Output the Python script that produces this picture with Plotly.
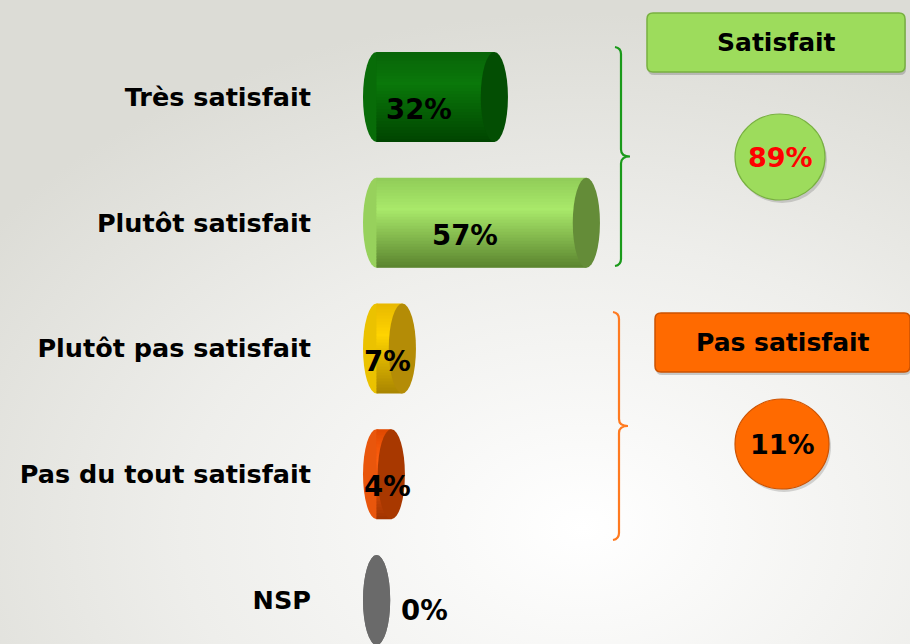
import base64
import plotly.graph_objects as go

# ---------------- data ----------------
categories = ["Très satisfait", "Plutôt satisfait", "Plutôt pas satisfait",
              "Pas du tout satisfait", "NSP"]
values = [32, 57, 7, 4, 0]
group_names = ["Satisfait", "Pas satisfait"]
group_members = [[0, 1], [2, 3]]

# ---------------- style ----------------
# vertical shading profile of each cylinder: (top, highlight, bottom)
top_colors = ["#086408", "#90cc58", "#e8b800", "#e04800", "#707070"]
hi_colors = ["#0a780a", "#a9e96a", "#ffd400", "#ff6010", "#747474"]
bot_colors = ["#004400", "#5a832e", "#a88400", "#a03400", "#646464"]
cap_colors = ["#034e03", "#648c38", "#b48c06", "#a83800", "#6a6a6a"]
group_fill = ["#9ddc5c", "#ff6a00"]
group_line = ["#78b040", "#cc5200"]
group_text = ["#ff0000", "#000000"]
brace_colors = ["#1a9a1a", "#ff7a20"]

W_FIG, H_FIG = 910, 644
L = 312                      # left margin (px)
PX_PER_UNIT = 3.68           # px per percent
X0_PX = 376.6                # px of value 0
ROW0_PX, ROW_STEP = 97, 125.75

x_min = (L - X0_PX) / PX_PER_UNIT
x_max = (W_FIG - X0_PX) / PX_PER_UNIT
y_top = -ROW0_PX / ROW_STEP
y_bot = (H_FIG - ROW0_PX) / ROW_STEP
PW = W_FIG - L


def px(x):
    return (x - L) / PW


def py(y):
    return 1 - y / H_FIG


def hex2rgb(h):
    h = h.lstrip("#")
    return [int(h[i:i + 2], 16) for i in (0, 2, 4)]


def mix(c1, c2, t):
    a, b = hex2rgb(c1), hex2rgb(c2)
    return "rgb({},{},{})".format(*[round(a[k] + (b[k] - a[k]) * t) for k in range(3)])


def shade(i, t):
    if t <= 0.35:
        return mix(top_colors[i], hi_colors[i], t / 0.35)
    return mix(hi_colors[i], bot_colors[i], (t - 0.35) / 0.65)


FONT = "DejaVu Sans"
bar_w = 0.716
cap_rx = 13.6 / PX_PER_UNIT
cap_ry = bar_w / 2
N_STRIPES = 30

fig = go.Figure()
ys = list(range(len(categories)))

sw = bar_w / N_STRIPES
for k in range(N_STRIPES):
    t = (k + 0.5) / N_STRIPES
    w = sw * (1.8 if k < N_STRIPES - 1 else 1.0)
    fig.add_trace(go.Bar(
        y=ys, x=values, orientation="h", width=w, offset=-bar_w / 2 + k * sw,
        marker=dict(color=[shade(i, t) for i in ys], line=dict(width=0)),
        hoverinfo="skip", showlegend=False))

shapes = []
annotations = []
for i, v in enumerate(values):
    # left cap (behind bar body)
    shapes.append(dict(type="circle", xref="x", yref="y", layer="below",
                       x0=-cap_rx, x1=cap_rx, y0=i - cap_ry, y1=i + cap_ry,
                       fillcolor=shade(i, 0.5), line=dict(width=0)))
    # right cap (end face)
    shapes.append(dict(type="circle", xref="x", yref="y", layer="above",
                       x0=v - cap_rx, x1=v + cap_rx, y0=i - cap_ry, y1=i + cap_ry,
                       fillcolor=cap_colors[i], line=dict(width=0)))
    if v >= 1:
        annotations.append(dict(x=max(v / 2 - 4.5, 3), y=i, xref="x", yref="y",
                                xanchor="center", yanchor="middle",
                                text=f"{v}%", showarrow=False, yshift=-12,
                                font=dict(family=FONT, size=27.5, color="black", weight="bold")))
    else:
        annotations.append(dict(x=v + 6, y=i, xref="x", yref="y", xanchor="left",
                                yanchor="middle",
                                text=f"{v}%", showarrow=False, yshift=-10,
                                font=dict(family=FONT, size=27.5, color="black", weight="bold")))


def rrect(x0, y0, x1, y1, r):
    pts = [("M", x0 + r, y0), ("L", x1 - r, y0), ("Q", x1, y0, x1, y0 + r),
           ("L", x1, y1 - r), ("Q", x1, y1, x1 - r, y1), ("L", x0 + r, y1),
           ("Q", x0, y1, x0, y1 - r), ("L", x0, y0 + r), ("Q", x0, y0, x0 + r, y0)]
    s = ""
    for p in pts:
        if p[0] == "Q":
            s += f"Q{px(p[1]):.5f},{py(p[2]):.5f} {px(p[3]):.5f},{py(p[4]):.5f} "
        else:
            s += f"{p[0]}{px(p[1]):.5f},{py(p[2]):.5f} "
    return s + "Z"


def brace(x, ytop, ybot, depth=9, hook=6, r=7):
    ym = (ytop + ybot) / 2
    d = (f"M{px(x - hook):.5f},{py(ytop):.5f} "
         f"Q{px(x):.5f},{py(ytop + 1):.5f} {px(x):.5f},{py(ytop + r):.5f} "
         f"L{px(x):.5f},{py(ym - r):.5f} "
         f"Q{px(x):.5f},{py(ym):.5f} {px(x + depth):.5f},{py(ym):.5f} "
         f"Q{px(x):.5f},{py(ym):.5f} {px(x):.5f},{py(ym + r):.5f} "
         f"L{px(x):.5f},{py(ybot - r):.5f} "
         f"Q{px(x):.5f},{py(ybot - 1):.5f} {px(x - hook):.5f},{py(ybot):.5f}")
    return d


brace_pos = [(621, 47, 266), (619, 312, 540)]
box_pos = [(647, 13, 905, 72), (655, 313, 910, 372)]
circ_pos = [(780, 157, 45, 43), (782, 444, 47, 45)]

for g, members in enumerate(group_members):
    total = sum(values[m] for m in members)
    bx, bt, bb = brace_pos[g]
    shapes.append(dict(type="path", xref="paper", yref="paper", path=brace(bx, bt, bb),
                       line=dict(color=brace_colors[g], width=2.2)))
    x0, y0, x1, y1 = box_pos[g]
    shapes.append(dict(type="path", xref="paper", yref="paper",
                       path=rrect(x0 + 1, y0 + 3, x1 + 1, y1 + 3, 6),
                       fillcolor="rgba(0,0,0,0.18)", line=dict(width=0)))
    shapes.append(dict(type="path", xref="paper", yref="paper", path=rrect(x0, y0, x1, y1, 6),
                       fillcolor=group_fill[g], line=dict(color=group_line[g], width=1.5)))
    annotations.append(dict(x=px((x0 + x1) / 2), y=py((y0 + y1) / 2), xref="paper", yref="paper",
                            xanchor="center", yanchor="middle",
                            text=group_names[g], showarrow=False,
                            font=dict(family=FONT, size=25, color="black", weight="bold")))
    cx, cy, rx, ry = circ_pos[g]
    shapes.append(dict(type="circle", xref="paper", yref="paper",
                       x0=px(cx - rx + 2), x1=px(cx + rx + 2), y0=py(cy + ry + 3), y1=py(cy - ry + 3),
                       fillcolor="rgba(0,0,0,0.15)", line=dict(width=0)))
    shapes.append(dict(type="circle", xref="paper", yref="paper",
                       x0=px(cx - rx), x1=px(cx + rx), y0=py(cy + ry), y1=py(cy - ry),
                       fillcolor=group_fill[g], line=dict(color=group_line[g], width=1.2)))
    annotations.append(dict(x=px(cx), y=py(cy), xref="paper", yref="paper",
                            xanchor="center", yanchor="middle",
                            text=f"{total}%", showarrow=False,
                            font=dict(family=FONT, size=27, color=group_text[g], weight="bold")))

svg = ('<svg xmlns="http://www.w3.org/2000/svg" width="910" height="644">'
       '<defs><radialGradient id="g" cx="0.64" cy="0.82" r="0.8">'
       '<stop offset="0" stop-color="#ffffff"/><stop offset="0.55" stop-color="#eeeeeb"/>'
       '<stop offset="1" stop-color="#dcdcd6"/></radialGradient></defs>'
       '<rect width="910" height="644" fill="url(#g)"/></svg>')
bg_src = "data:image/svg+xml;base64," + base64.b64encode(svg.encode()).decode()

fig.update_layout(
    width=W_FIG, height=H_FIG,
    margin=dict(l=L, r=0, t=0, b=0),
    barmode="overlay",
    paper_bgcolor="#e8e8e4", plot_bgcolor="rgba(0,0,0,0)",
    xaxis=dict(range=[x_min, x_max], visible=False, fixedrange=True),
    yaxis=dict(range=[y_bot, y_top], tickvals=ys, ticktext=categories,
               showgrid=False, zeroline=False, showline=False, ticks="",
               tickfont=dict(family=FONT, size=25.5, color="black", weight="bold"),
               fixedrange=True),
    shapes=shapes,
    annotations=annotations,
    images=[dict(source=bg_src, xref="paper", yref="paper", x=-L / PW, y=1,
                 sizex=W_FIG / PW, sizey=1, sizing="stretch", layer="below",
                 xanchor="left", yanchor="top")],
    showlegend=False,
)

fig.write_html("out.html", config={"displayModeBar": False},
               post_script="document.body.style.margin='0';")
